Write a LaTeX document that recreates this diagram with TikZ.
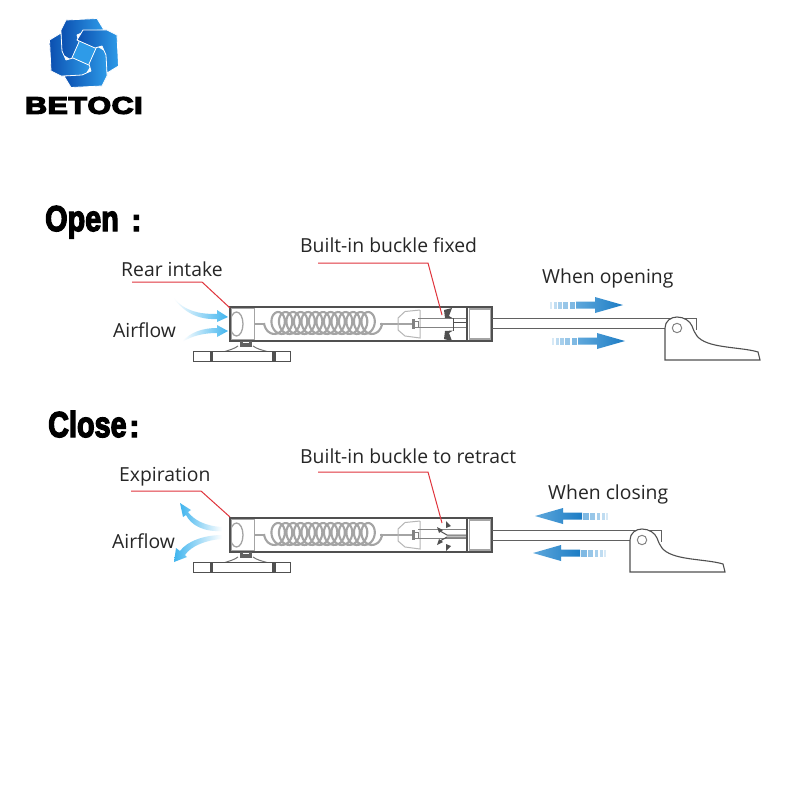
\documentclass[tikz,border=0pt]{standalone}
\usepackage{fontspec}
\usepackage{graphicx}
\setmainfont{Open Sans}
\newfontfamily\heavyfont[FakeBold=4]{Liberation Sans Bold}
\newfontfamily\brandfont[FakeBold=5]{Liberation Sans Bold}
\definecolor{outline}{HTML}{505050}
\definecolor{softgray}{HTML}{A4A4A4}
\definecolor{redline}{HTML}{E0343C}
\definecolor{airblue}{HTML}{3FB4EE}
\definecolor{flowblue}{HTML}{1C7CC4}
\definecolor{flowpale}{HTML}{5FA8DC}
\definecolor{logoblue}{HTML}{0B4FB0}
\definecolor{logolight}{HTML}{2E9BE8}
\tikzset{
  label text/.style={font=\fontsize{19.35}{22}\selectfont,text=black!85,inner sep=0pt,anchor=base west},
  leader/.style={draw=redline,line width=1pt},
  hull/.style={draw=outline,line width=1.1pt},
  inner part/.style={draw=softgray,line width=1.3pt},
}
% the strut body, shared by both drawings; #1 = dy
\newcommand{\strutbody}[1]{%
\begin{scope}[yshift=-#1pt]
  \fill[outline] (240,306.5) rectangle (245,309);
  \draw[inner part] (231,308) rectangle (254.5,340);
  \draw[inner part] (236.5,324) ellipse (6.5 and 12);
  \draw[softgray,line width=1.2pt] (254,324) -- (264,324);
  \draw[softgray,line width=2.1pt] plot[smooth,domain=0:4860,samples=360,variable=\t]
     ({264+8.5+(\t/360)*7.5-8.5*cos(\t)},{323+11*sin(\t)});
  \draw[softgray,line width=1.2pt] (380,324) -- (414,324);
  \draw[softgray!80,line width=1pt] (420,310) -- (405,311.5) -- (398,318) -- (398,330) -- (405,336) -- (420,338) -- (420,310);
  \fill[softgray!80!black] (412,319) rectangle (414.5,329);
  \draw[softgray!80!black,line width=1pt] (414.5,321) rectangle (418,327);
  \draw[softgray!80!black,line width=.9pt] (418,318.5) -- (467,318.5);
  \draw[softgray!80!black,line width=.9pt] (418,327.5) -- (467,327.5);
  \draw[hull] (230,307) rectangle (492,341);
  \draw[hull] (467,307) -- (467,341);
  \draw[softgray,line width=1.8pt] (469.5,309) rectangle (490.5,339);
  % base
  \fill[softgray!60!black] (240,340.5) rectangle (252,347);
  \fill[white] (243,341.5) rectangle (249,343);
  \draw[softgray!70!black,line width=1pt] (238,346) .. controls (234,349) and (229,350) .. (225,351.5);
  \draw[softgray!70!black,line width=1pt] (253,346) .. controls (257,349) and (262,350) .. (267,351.5);
  \draw[outline,line width=.9pt] (193,351.5) rectangle (290,361);
  \fill[outline] (209.5,351.5) rectangle (213,361);
  \fill[outline] (272,351.5) rectangle (275.5,361);
\end{scope}}
% arm and handle; #1 = dx, #2 = dy
\newcommand{\handlearm}[2]{%
\begin{scope}[xshift=#1pt,yshift=-#2pt]
  \draw[outline!90,line width=1pt] (492-#1,318) -- (696,318) -- (696,330);
  \draw[outline!90,line width=1pt] (492-#1,328) -- (665,328);
  \draw[outline,line width=1.1pt,fill=white] (665,328) .. controls (665,321) and (671,317) .. (677,317)
     .. controls (684,317) and (690,321) .. (692,326) .. controls (695,334) and (697,339) .. (708,343)
     .. controls (722,348) and (745,348) .. (758,352) -- (760,360) -- (665,360) -- cycle;
  \draw[softgray!80!black,line width=1pt,fill=white] (677,328) circle (4.7);
\end{scope}}
% striped-tail flow arrow; #1 = tip x, #2 = y, #3 = +1 to the right, -1 to the left
\newcommand{\flowarrow}[3]{%
\begin{scope}[shift={(#1,#2)},xscale=#3]
  \fill[flowpale!25] (-73,-3.5) rectangle (-71,3.5);
  \fill[flowpale!40] (-69.5,-3.5) rectangle (-66.5,3.5);
  \fill[flowpale!55] (-65,-3.5) rectangle (-61.5,3.5);
  \fill[flowpale!65] (-60,-3.5) rectangle (-55,3.5);
  \fill[flowpale!80] (-53.5,-3.5) rectangle (-48,3.5);
  \shade[left color=flowpale,right color=flowblue] (-47,-3.5) -- (-28,-3.5) -- (-28,-8) -- (0,0) -- (-28,8) -- (-28,3.5) -- (-47,3.5) -- cycle;
\end{scope}}
\begin{document}
\begin{tikzpicture}[x=1pt,y=-1pt]
\useasboundingbox (0,0) rectangle (800,800);
\fill[white] (0,0) rectangle (800,800);
% logo
\fill[logolight] (84,53) circle (13);
\foreach \a in {0,90,180,270}{
  \begin{scope}[shift={(84,53)},rotate=\a]
    \shade[left color=logoblue,right color=logolight,draw=white,line width=.8pt,line join=round]
      (13,-34.5) -- (20,-23) -- (2,-22) -- (-7,-18) -- (-5,-11) -- (-13,7) -- (-23,1) -- (-23,-23) -- (-18,-33) -- cycle;
  \end{scope}}
\node[inner sep=0pt,anchor=west] (brand) at (25,105.5) {\scalebox{1.26}[1]{\brandfont\fontsize{24}{25}\selectfont B\kern.5pt E\kern.5pt T\kern.5pt O\kern.5pt C\kern.5pt I}};
% titles
\node[inner sep=0pt,anchor=base west] (titleopen) at (45,231) {\scalebox{.8}[1]{\heavyfont\fontsize{36}{38}\selectfont Open}};
\node[inner sep=0pt,anchor=base west] (colonopen) at (131,231) {\heavyfont\fontsize{31}{32}\selectfont :};
\node[inner sep=0pt,anchor=base west] (titleclose) at (48,437) {\scalebox{.8}[1]{\heavyfont\fontsize{36}{38}\selectfont Close}};
\node[inner sep=0pt,anchor=base west] (colonclose) at (129,437) {\heavyfont\fontsize{31}{32}\selectfont :};
% struts
\strutbody{0}
\strutbody{211}
\handlearm{0}{0}
\handlearm{-35}{212}
% buckle, open
\fill[outline] (444,310) -- (452,308) -- (449,316) -- (453,318.5) -- (445,318) -- cycle;
\fill[outline] (444,339) -- (452,341) -- (449,333) -- (453,330.5) -- (445,331) -- cycle;
\draw[outline,line width=1pt] (453,318) -- (453,331);
\draw[outline,line width=.9pt] (453,322) -- (467,322);
% buckle, closed
\fill[outline] (446,521) -- (451,526) -- (446,528) -- cycle;
\fill[outline] (446,551) -- (451,546) -- (446,544) -- cycle;
\fill[outline] (437,527) -- (443,530) -- (439,533) -- cycle;
\fill[outline] (437,545) -- (443,542) -- (439,539) -- cycle;
\draw[outline,line width=1pt] (440,531) -- (447,535) -- (467,535);
\draw[outline,line width=1pt] (440,541) -- (447,537) -- (467,537);
% leaders
\draw[leader] (132,282) -- (202,282) -- (230,308);
\draw[leader] (318,263) -- (428,263) -- (442,315);
\draw[leader] (131,491) -- (201,491) -- (230,517);
\draw[leader] (318,472) -- (428,472) -- (442,523);
% intake air
\shade[left color=white,right color=airblue] (173,297) .. controls (185,312) and (200,314) .. (217,314) -- (217,310) -- (228,317) -- (217,322) -- (217,319) .. controls (198,320) and (183,312) .. cycle;
\shade[left color=white,right color=airblue] (182,342) .. controls (190,332) and (203,328) .. (217,328) -- (217,325) -- (228,331) -- (217,337) -- (217,333) .. controls (203,333) and (192,336) .. cycle;
% outgoing air
\shade[left color=airblue,right color=white] (180,503) -- (191,510) -- (188,512) .. controls (194,520) and (205,526) .. (222,527) -- (222,531) .. controls (203,532) and (191,525) .. (186,515) -- (183,517) -- cycle;
\shade[left color=airblue,right color=white] (174,562) -- (176,548) -- (180,551) .. controls (187,541) and (205,535) .. (222,535) -- (222,539) .. controls (206,540) and (191,546) .. (185,555) -- (187,557) -- cycle;
% flow arrows
\flowarrow{623}{305}{1}
\flowarrow{625}{341}{1}
\flowarrow{535}{516}{-1}
\flowarrow{533}{553}{-1}
% labels
\node[label text] (rear) at (121,276) {Rear intake};
\node[label text] (air1) at (113,337.5) {Airflow};
\node[label text] (buckle1) at (300,252.5) {Built-in buckle fixed};
\node[label text] (opening) at (542,283) {When opening};
\node[label text] (expire) at (119,481) {Expiration};
\node[label text] (air2) at (112,548) {Airflow};
\node[label text] (buckle2) at (300,463) {Built-in buckle to retract};
\node[label text] (closing) at (548,499) {When closing};
\end{tikzpicture}
\end{document}
